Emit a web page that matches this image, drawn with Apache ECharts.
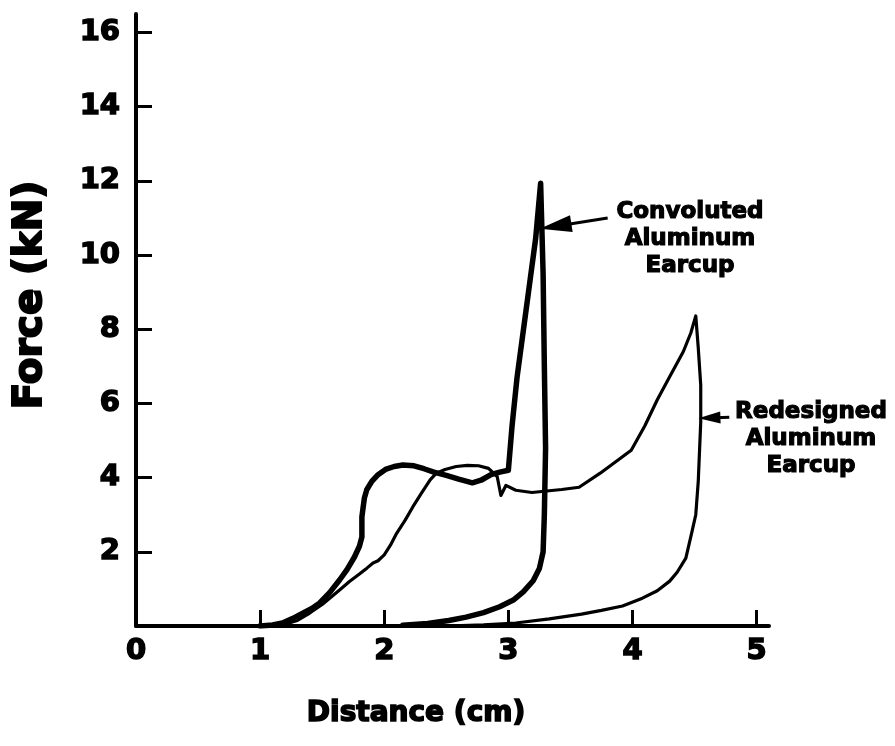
<!DOCTYPE html>
<html><head><meta charset="utf-8">
<script src="https://cdn.jsdelivr.net/npm/echarts@6/dist/echarts.min.js"></script>
<style>html,body{margin:0;padding:0;background:#fff}#c{width:895px;height:746px}</style>
</head><body><div id="c"></div>
<script>
const xLabelValues = [0, 1, 2, 3, 4, 5];
const xTickValues = [1, 2, 3, 4, 5];
const yTickValues = [2, 4, 6, 8, 10, 12, 14, 16];

// Convoluted Aluminum Earcup: loading then unloading [distance cm, force kN]
const convoluted = [
  [1.00, 0.00], [1.10, 0.03], [1.18, 0.08], [1.26, 0.20], [1.34, 0.34], [1.42, 0.48],
  [1.48, 0.62], [1.56, 0.90], [1.64, 1.24], [1.70, 1.52], [1.76, 1.86], [1.80, 2.15],
  [1.82, 2.40], [1.82, 2.70], [1.82, 2.94], [1.83, 3.20], [1.84, 3.45], [1.86, 3.68],
  [1.90, 3.90], [1.95, 4.08], [2.01, 4.22], [2.08, 4.30], [2.15, 4.34], [2.24, 4.32],
  [2.32, 4.24], [2.40, 4.15], [2.50, 4.06], [2.60, 3.96], [2.71, 3.86], [2.78, 3.93],
  [2.86, 4.08], [2.93, 4.15], [3.00, 4.20], [3.03, 5.40], [3.07, 6.70], [3.15, 8.70],
  [3.22, 10.45], [3.26, 11.94],
  [3.28, 9.50], [3.29, 7.00], [3.30, 4.80], [3.29, 3.00], [3.28, 2.00], [3.25, 1.55],
  [3.20, 1.22], [3.12, 0.92], [3.04, 0.70], [2.93, 0.52], [2.80, 0.36], [2.66, 0.24],
  [2.52, 0.15], [2.35, 0.07], [2.15, 0.02]
];

// Redesigned Aluminum Earcup: loading then unloading [distance cm, force kN]
const redesigned = [
  [1.05, 0.00], [1.20, 0.05], [1.30, 0.15], [1.40, 0.35], [1.50, 0.58], [1.58, 0.80],
  [1.64, 0.97], [1.72, 1.20], [1.80, 1.40], [1.86, 1.56], [1.91, 1.70], [1.95, 1.76],
  [2.00, 1.92], [2.05, 2.18], [2.10, 2.50], [2.17, 2.86], [2.23, 3.21], [2.30, 3.58],
  [2.37, 3.94], [2.42, 4.12], [2.49, 4.22], [2.58, 4.30], [2.67, 4.33], [2.76, 4.32],
  [2.84, 4.25], [2.91, 4.03], [2.94, 3.52], [2.98, 3.79], [3.06, 3.66], [3.19, 3.60],
  [3.43, 3.68], [3.57, 3.74], [3.74, 4.12], [3.99, 4.74], [4.10, 5.40], [4.20, 6.10],
  [4.28, 6.60], [4.41, 7.40], [4.47, 7.90], [4.51, 8.36],
  [4.53, 7.50], [4.55, 6.50], [4.55, 5.50], [4.53, 3.90], [4.51, 3.00], [4.48, 2.55],
  [4.43, 1.83], [4.36, 1.45], [4.30, 1.21], [4.20, 0.95], [4.08, 0.75], [3.92, 0.54],
  [3.75, 0.42], [3.59, 0.32], [3.33, 0.19], [3.06, 0.08], [2.80, 0.03], [2.50, 0.00]
];

const seriesNames = ['Convoluted Aluminum Earcup', 'Redesigned Aluminum Earcup'];
const convolutedLabel = ['Convoluted', 'Aluminum', 'Earcup'];
const redesignedLabel = ['Redesigned', 'Aluminum', 'Earcup'];
const convolutedArrow = [[3.80, 11.00], [3.38, 10.78]];
const redesignedArrow = [[4.78, 5.63], [4.62, 5.61]];

const FONT = 'DejaVu Sans';
const chart = echarts.init(document.getElementById('c'), null, {renderer: 'canvas'});

function labelLines(lines, cx, y0, step) {
  return lines.map((t, i) => ({
    type: 'text', x: cx, y: y0 + i * step,
    style: {text: t, fill: '#000', stroke: '#000', lineWidth: 1.2,
            font: 'bold 23px "' + FONT + '"', textAlign: 'center', textVerticalAlign: 'middle'}
  }));
}

const tickLabel = {
  color: '#000', fontFamily: FONT, fontWeight: 'bold', fontSize: 29,
  textBorderColor: '#000', textBorderWidth: 1.5
};

const option = {
  animation: false,
  backgroundColor: '#fff',
  grid: {left: 136, right: 126, top: 14, bottom: 120},
  xAxis: {
    type: 'value', min: 0, max: 5.1,
    axisLine: {lineStyle: {color: '#000', width: 4}},
    axisTick: {show: true, inside: true, length: 16, lineStyle: {color: '#000', width: 3}, customValues: xTickValues},
    axisLabel: Object.assign({margin: 11, customValues: xLabelValues}, tickLabel),
    splitLine: {show: false}
  },
  yAxis: {
    type: 'value', min: 0, max: 16.5,
    axisLine: {show: true, lineStyle: {color: '#000', width: 4}},
    axisTick: {show: true, inside: true, length: 16, lineStyle: {color: '#000', width: 3}, customValues: yTickValues},
    axisLabel: Object.assign({margin: 16, customValues: yTickValues}, tickLabel),
    splitLine: {show: false}
  },
  series: [
    {
      name: seriesNames[0], type: 'line', data: convoluted, showSymbol: false, symbol: 'none',
      lineStyle: {color: '#000', width: 5.5, join: 'round', cap: 'round'}, z: 3,
      markLine: {
        silent: true, animation: false,
        lineStyle: {color: '#000', width: 3, type: 'solid'},
        label: {show: false},
        data: [
          [{coord: convolutedArrow[0], symbol: 'none'}, {coord: convolutedArrow[1], symbol: 'triangle', symbolSize: [17, 32]}],
          [{coord: redesignedArrow[0], symbol: 'none'}, {coord: redesignedArrow[1], symbol: 'triangle', symbolSize: [12, 22]}]
        ]
      }
    },
    {
      name: seriesNames[1], type: 'line', data: redesigned, showSymbol: false, symbol: 'none',
      lineStyle: {color: '#000', width: 3.2, join: 'round', cap: 'round'}, z: 2
    }
  ],
  graphic: [
    {type: 'text', x: 416, y: 714,
     style: {text: 'Distance (cm)', fill: '#000', stroke: '#000', lineWidth: 1.6,
             font: 'bold 28px "' + FONT + '"', textAlign: 'center', textVerticalAlign: 'middle'}},
    {type: 'text', x: 31, y: 295, rotation: Math.PI / 2,
     style: {text: 'Force (kN)', fill: '#000', stroke: '#000', lineWidth: 2,
             font: 'bold 39px "' + FONT + '"', textAlign: 'center', textVerticalAlign: 'middle'}}
  ].concat(labelLines(convolutedLabel, 690, 212, 27)).concat(labelLines(redesignedLabel, 811, 412, 27))
};
chart.setOption(option);
</script>
</body></html>
